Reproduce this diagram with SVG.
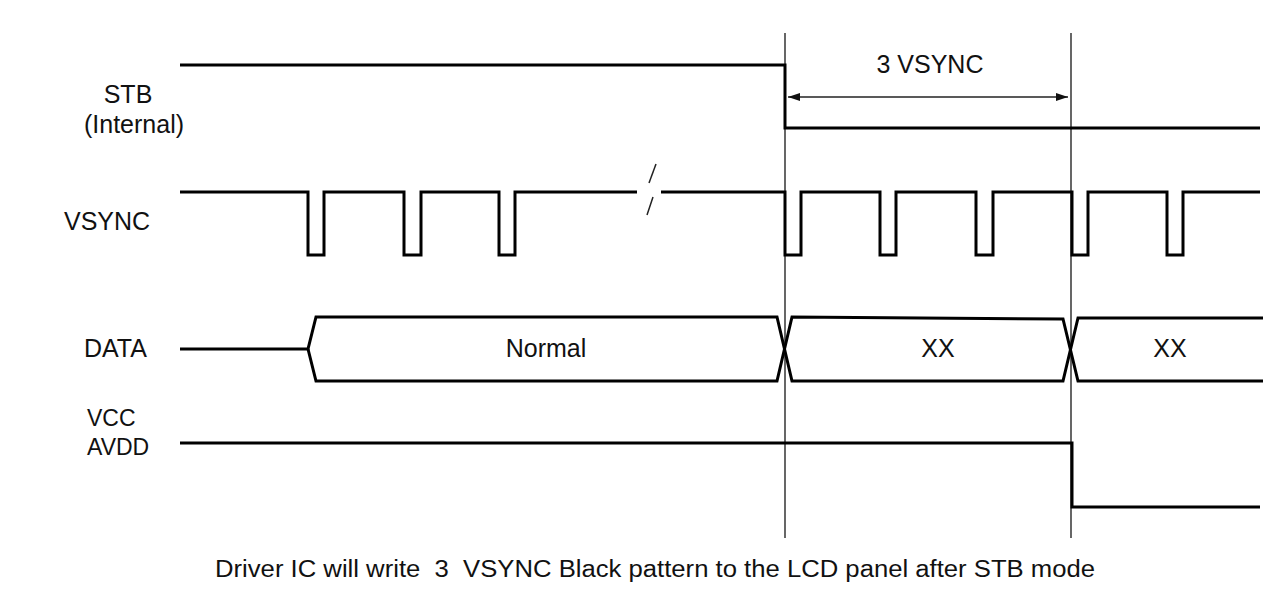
<svg xmlns="http://www.w3.org/2000/svg" width="1278" height="593" viewBox="0 0 1278 593">
  <defs>
    <style>
      .sig { fill: none; stroke: #000; stroke-width: 3; stroke-linejoin: miter; }
      .guide { fill: none; stroke: #000; stroke-width: 1.2; }
      .dim { fill: none; stroke: #222; stroke-width: 1.5; }
      .lbl { font-family: "Liberation Sans", Arial, sans-serif; font-size: 25px; fill: #111; }
      .small { font-size: 23px; }
      .mid { text-anchor: middle; }
      .cap { font-size: 23px; }
    </style>
    <marker id="arr" viewBox="0 0 12 8" refX="12" refY="4" markerWidth="12" markerHeight="8" markerUnits="userSpaceOnUse" orient="auto-start-reverse">
      <path d="M0,0 L12,4 L0,8 Z" fill="#111"/>
    </marker>
  </defs>
  <rect width="1278" height="593" fill="#fff"/>

  <g id="labels">
    <text class="lbl mid" x="128" y="103">STB</text>
    <text class="lbl mid" x="134" y="133">(Internal)</text>
    <text class="lbl" x="64" y="230">VSYNC</text>
    <text class="lbl" x="84" y="357">DATA</text>
    <text class="lbl small" x="87" y="426">VCC</text>
    <text class="lbl small" x="87" y="455">AVDD</text>
  </g>

  <g id="stb">
    <polyline class="sig" points="180,65 785,65 785,128 1260,128"/>
  </g>

  <g id="vsync">
    <polyline class="sig" points="180,192 308,192 308,255 324,255 324,192 404,192 404,255 421,255 421,192 499,192 499,255 515,255 515,192 637,192"/>
    <polyline class="sig" points="661,192 785,192 785,255 801,255 801,192 880,192 880,255 896,255 896,192 976,192 976,255 993,255 993,192 1072,192 1072,255 1088,255 1088,192 1167,192 1167,255 1183,255 1183,192 1260,192"/>
    <line class="dim" x1="656" y1="164" x2="649" y2="183"/>
    <line class="dim" x1="653" y1="197" x2="647" y2="215"/>
  </g>

  <g id="data">
    <polyline class="sig" points="180,349 308,349 316,317 777,317 792,381 1063,381 1078,318 1263,318"/>
    <polyline class="sig" points="308,349 316,381 777,381 792,317 1063,319 1078,381 1263,381"/>
    <text class="lbl mid" x="546" y="357">Normal</text>
    <text class="lbl mid" x="938" y="357">XX</text>
    <text class="lbl mid" x="1170" y="357">XX</text>
  </g>

  <g id="vcc">
    <polyline class="sig" points="180,443 1072,443 1072,507 1260,507"/>
  </g>

  <g id="connectors">
    <line class="guide" x1="785" y1="33" x2="785" y2="538"/>
    <line class="guide" x1="1071" y1="33" x2="1071" y2="538"/>
    <line class="dim" x1="788" y1="97" x2="1068" y2="97" marker-start="url(#arr)" marker-end="url(#arr)"/>
    <text class="lbl mid" x="930" y="73">3 VSYNC</text>
  </g>

  <g id="caption">
    <text class="lbl cap" x="215" y="577" textLength="880" lengthAdjust="spacingAndGlyphs" xml:space="preserve">Driver IC will write  3  VSYNC Black pattern to the LCD panel after STB mode</text>
  </g>
</svg>
